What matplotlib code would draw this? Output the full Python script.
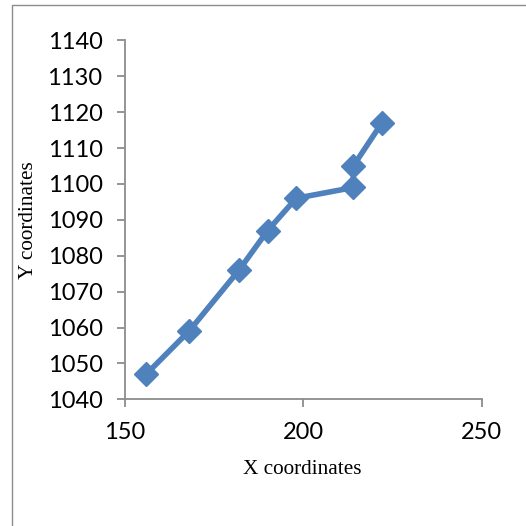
import matplotlib
matplotlib.use("Agg")
import matplotlib.pyplot as plt
from matplotlib.patches import Rectangle

x_vals = [156, 168, 182, 190, 198, 214, 214, 222]
y_vals = [1047, 1059, 1076, 1087, 1096, 1099, 1105, 1117]
x_ticks = [150, 200, 250]
y_ticks = [1040, 1050, 1060, 1070, 1080, 1090, 1100, 1110, 1120, 1130, 1140]
x_label = "X coordinates"
y_label = "Y coordinates"

W = H = 526
fig = plt.figure(figsize=(W / 100, H / 100), dpi=100)
fig.patch.set_facecolor("white")

# outer chart border
fig.patches.append(Rectangle((12 / W, -0.01), 1.2, 1 - 5 / H + 0.01, transform=fig.transFigure,
                             fill=False, edgecolor="#8c8c8c", linewidth=1.0))

ax = fig.add_axes([124.8 / W, 1 - 399.3 / H, (481.9 - 124.8) / W, (399.3 - 40.3) / H])
ax.plot(x_vals, y_vals, color="#4F81BD", linewidth=4, marker="D", markersize=12.5,
        markerfacecolor="#4F81BD", markeredgecolor="#4F81BD", solid_joinstyle="round")

ax.set_xlim(150, 250)
ax.set_ylim(1040, 1140)
ax.set_xticks(x_ticks)
ax.set_yticks(y_ticks)
for s in ["top", "right"]:
    ax.spines[s].set_visible(False)
for s in ["left", "bottom"]:
    ax.spines[s].set_color("#8c8c8c")
    ax.spines[s].set_linewidth(1.3)
ax.tick_params(direction="out", length=6, width=1.3, color="#8c8c8c",
               labelsize=17, labelcolor="black")
ax.tick_params(axis="y", pad=10)
ax.tick_params(axis="x", pad=10)
for lab in ax.get_xticklabels() + ax.get_yticklabels():
    lab.set_fontfamily("Lato")

fig.text(302.7 / W, 1 - 470 / H, x_label, ha="center", va="center",
         fontfamily="Liberation Serif", fontsize=15.3)
fig.text(28.5 / W, 1 - 220 / H, y_label, ha="center", va="center", rotation=90,
         fontfamily="Liberation Serif", fontsize=15.3)

fig.savefig("out.png", dpi=100)
